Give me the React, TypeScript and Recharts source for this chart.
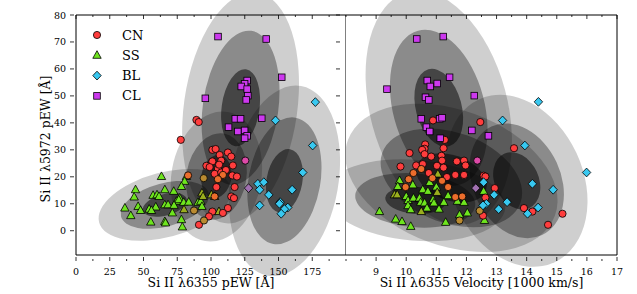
import React from 'react';
import { ScatterChart, Scatter, XAxis, YAxis, ReferenceArea, ReferenceLine } from 'recharts';

type Pt = [number, number];

// --- left panel: Si II 6355 pEW vs Si II 5972 pEW ---
const cnPew: Pt[] = [[89.2, 41.1], [90.9, 40.3], [77.6, 33.7], [101, 30], [103.4, 30.3], [112.5, 29.0], [115, 27.5], [106.4, 28.1], [107.6, 26.0], [101, 25.7], [116.2, 24.2], [96.6, 24.1], [99, 23.6], [105.1, 22.9], [102.7, 21.1], [107.6, 21.6], [115.8, 20.5], [119.2, 20.1], [104, 16.2], [117.5, 16.2], [115, 12.7], [117, 12.1], [112.5, 8.4], [108.8, 6.6], [101, 7.1], [98.5, 5.3], [91.1, 2.2], [111, 22.5], [106, 24.5]];
const cnPewWarm: Pt[] = [[108.8, 20.7], [83, 20.5], [105.1, 19.1], [102.7, 12.7]];
const cnPewBrown: Pt[] = [[94.6, 19.5], [94.8, 3.8], [87.4, 7.5]];
const cnPewPink: Pt[] = [[125.4, 26.0]];
const ssPew: Pt[] = [[63.3, 20.1], [81.8, 20.1], [80.5, 18.3], [44.1, 15.2], [65.8, 15.2], [78.1, 16.4], [72.4, 14.6], [43.1, 12.5], [57.1, 13.1], [60, 13.3], [61.5, 12.7], [76.8, 12.1], [74.4, 10.9], [76.1, 11.5], [79.8, 10.5], [83.5, 10.6], [90.4, 10.5], [92.4, 10.9], [65.8, 9.6], [68.2, 9.6], [72.6, 9.4], [59.1, 8.8], [36.2, 8.4], [46, 9.0], [47.8, 7.5], [54.2, 8.0], [55.9, 7.5], [93.3, 9.0], [71.4, 6.6], [40.6, 5.6], [55.4, 3.2], [65.8, 3.4], [66.3, 2.9], [78.1, 4.1], [78.8, 1.4]];
const ssPewOlive: Pt[] = [[93.3, 14.0], [94.1, 12.7], [100.3, 13.3], [102.7, 12.7], [80, 7.8], [105.9, 7.1]];
const blPew: Pt[] = [[177.3, 47.7], [147.8, 40.9], [175.3, 31.6], [168, 21.6], [160.1, 15.2], [134.7, 17.4], [139.1, 18.0], [136, 15.2], [142.8, 13.3], [136, 9.4], [151.2, 10.6], [150.7, 10], [156.9, 8.6], [154.4, 8.0], [152, 6.3]];
const blPewMauve: Pt[] = [[127.8, 15.8]];
const clPew: Pt[] = [[105.2, 72.0], [140.9, 71.1], [152.4, 56.9], [126.8, 55.7], [124.9, 54.5], [122.4, 53.5], [126.8, 52.5], [127.3, 50.1], [126.1, 48.5], [95.8, 49.1], [137.6, 41.7], [118, 41.5], [121.9, 41.5], [113, 38.4], [119.9, 36.8], [124.9, 37.2], [126.8, 35.2], [124.9, 34.3]];

// --- right panel: Si II 6355 velocity vs Si II 5972 pEW ---
const cnVel: Pt[] = [[10.89, 40.9], [12.46, 40.3], [11.28, 33.7], [10.63, 32.0], [10.61, 30.4], [11.24, 30.6], [13.58, 30.6], [10.53, 30], [10.61, 28.4], [10.11, 28.8], [10.83, 27.5], [11.17, 27.8], [11.19, 26.0], [11.68, 25.7], [11.92, 26.0], [11.97, 24.2], [9.81, 23.8], [10.33, 24.2], [10.55, 24.7], [11.02, 24.1], [11.24, 23.4], [10.75, 21.4], [11.35, 19.9], [11.63, 20.7], [11.92, 20.7], [12.57, 20.4], [12.63, 20.1], [12.94, 15.8], [12.63, 12.3], [13.91, 8.4], [14.19, 7.1], [15.19, 6.3], [14.71, 2.2], [12.55, 5.6]];
const cnVelWarm: Pt[] = [[10.5, 22.9], [10.24, 21.4], [10.87, 19.5], [10.08, 19.1], [11.19, 18.5], [9.98, 16.2], [11.39, 16.2], [11.63, 12.5], [11.86, 12.7]];
const cnVelBrown: Pt[] = [[12.44, 7.4], [11.77, 3.8]];
const cnVelPink: Pt[] = [[12.36, 26.0]];
const ssVel: Pt[] = [[9.78, 18.6], [10.22, 17.0], [10.78, 17.9], [9.72, 16.4], [10.55, 15.2], [10.72, 14.6], [11.0, 16.2], [10.0, 12.7], [10.06, 11.2], [10.24, 12.1], [10.44, 12.1], [10.48, 10.5], [10.61, 10.3], [10.89, 11.5], [10.92, 10.3], [11.39, 13.0], [11.25, 10.5], [11.7, 10.9], [11.92, 10.5], [10.06, 9.3], [10.15, 7.8], [10.69, 8.4], [11.09, 8.0], [9.11, 7.1], [9.65, 4.3], [9.86, 3.4], [10.15, 1.6], [11.31, 3.1], [11.77, 5.9], [12.03, 6.6], [12.57, 14.6], [12.6, 3.8]];
const ssVelOlive: Pt[] = [[11.05, 21.0], [9.61, 13.3], [9.7, 13.3], [11.03, 14.2], [10.5, 7.1]];
const blVel: Pt[] = [[14.39, 47.8], [13.2, 40.9], [13.94, 31.6], [15.99, 21.6], [14.88, 15.2], [14.19, 17.4], [12.57, 18.0], [12.92, 13.3], [13.35, 10.6], [12.66, 10.0], [12.55, 9.4], [13.07, 8.0], [14.38, 8.6], [14.03, 6.3]];
const blVelMauve: Pt[] = [[12.31, 15.8]];
const clVel: Pt[] = [[10.35, 71.1], [11.23, 72.0], [11.44, 56.9], [9.36, 52.5], [10.7, 55.7], [10.8, 53.5], [11.03, 54.6], [10.64, 49.5], [10.75, 48.5], [12.26, 50.1], [10.5, 41.5], [11.11, 41.5], [11.19, 41.9], [10.67, 38.4], [10.78, 36.8], [12.18, 37.2], [12.73, 35.2], [11.13, 34.3]];

// group means, 1-sigma widths and tilt (deg) for the confidence ellipses
const pewEllipses = [
  { cx: 65.8, cy: 9.6, sx: 16.8, sy: 4.0, angle: -15 },
  { cx: 104, cy: 20.1, sx: 11.1, sy: 8.1, angle: 10 },
  { cx: 154.4, cy: 18.5, sx: 13.3, sy: 11.9, angle: 10 },
  { cx: 121.9, cy: 45.6, sx: 14, sy: 14.4, angle: 8 },
];
const velEllipses = [
  { cx: 10.3, cy: 11.3, sx: 1.0, sy: 5.0, angle: 5 },
  { cx: 11.5, cy: 19.6, sx: 1.22, sy: 8.4, angle: 20 },
  { cx: 13.67, cy: 18.5, sx: 0.73, sy: 11.1, angle: -25 },
  { cx: 11.08, cy: 45.6, sx: 0.76, sy: 14.8, angle: -15 },
];
const sigmas = [3, 2, 1];
const sigmaAlpha: Record<number, number> = { 3: 0.19, 2: 0.33, 1: 0.5 };

const pewTicks = Array.from({ length: 17 }, (_, i) => i * 12.5);
const pewLabels = [0, 25, 50, 75, 100, 125, 150, 175];
const velTicks = Array.from({ length: 19 }, (_, i) => 8 + i * 0.5);
const velLabels = [9, 10, 11, 12, 13, 14, 15, 16, 17];
const ewTicks = [0, 10, 20, 30, 40, 50, 60, 70, 80];
const legendNames = ['CN', 'SS', 'BL', 'CL'];

const FONT = '"DejaVu Serif", serif';
const PLOT_TOP = 15;

const stroke = { stroke: '#000', strokeWidth: 0.8 };
const circle = (fill: string) => (p: any) => <circle cx={p.cx} cy={p.cy} r={3.6} fill={fill} {...stroke} />;
const triangle = (fill: string) => (p: any) => (
  <polygon points={`${p.cx},${p.cy - 4.6} ${p.cx - 4.2},${p.cy + 3} ${p.cx + 4.2},${p.cy + 3}`} fill={fill} {...stroke} />
);
const diamond = (fill: string) => (p: any) => (
  <polygon points={`${p.cx},${p.cy - 4.4} ${p.cx + 4.2},${p.cy} ${p.cx},${p.cy + 4.4} ${p.cx - 4.2},${p.cy}`} fill={fill} {...stroke} />
);
const square = (fill: string) => (p: any) => <rect x={p.cx - 3.3} y={p.cy - 3.3} width={6.6} height={6.6} fill={fill} {...stroke} />;

const RED = '#ff3d3d', ORANGE = '#ec6d2c', BROWN = '#b98a30', PINK = '#dd4aa8';
const GREEN = '#6ee41e', OLIVE = '#9aae1e', CYAN = '#38c8f0', MAUVE = '#a070b0', MAGENTA = '#cc38ee';
const legendShapes = [circle(RED), triangle(GREEN), diamond(CYAN), square(MAGENTA)];

const toData = (pts: Pt[]) => pts.map(([x, y]) => ({ x, y }));

const xTick = (labels: number[]) => (p: any) => {
  const v = p.payload.value;
  const major = labels.includes(v);
  const len = major ? 4 : 2;
  return (
    <g>
      <line x1={p.x} x2={p.x} y1={p.y} y2={p.y - len} {...stroke} />
      <line x1={p.x} x2={p.x} y1={PLOT_TOP} y2={PLOT_TOP + len} {...stroke} />
      {major && (
        <text x={p.x} y={p.y + 13.5} textAnchor="middle" fontSize={9.5} fontFamily={FONT} fill="#000">{v}</text>
      )}
    </g>
  );
};

const yTick = (plotW: number, showLabel: boolean) => (p: any) => {
  const v = p.payload.value;
  return (
    <g>
      <line x1={p.x} x2={p.x + 4} y1={p.y} y2={p.y} {...stroke} />
      <line x1={p.x + plotW} x2={p.x + plotW - 4} y1={p.y} y2={p.y} {...stroke} />
      {showLabel && (
        <text x={p.x - 4} y={p.y + 3.5} textAnchor="end" fontSize={9.5} fontFamily={FONT} fill="#000">{v}</text>
      )}
    </g>
  );
};

const xTitle = (text: string) => (lp: any) => {
  const vb = lp.viewBox || { x: 0, y: 255, width: 270, height: 39 };
  return (
    <text x={vb.x + vb.width / 2} y={vb.y + 32} textAnchor="middle" fontSize={12.5} fontFamily={FONT} fill="#000">{text}</text>
  );
};

const yTitle = (text: string) => (lp: any) => {
  const vb = lp.viewBox || { x: 0, y: 15, width: 76, height: 240 };
  const cx = vb.x + 45;
  const cy = vb.y + vb.height / 2 + 4;
  return (
    <text x={cx} y={cy} transform={`rotate(-90 ${cx} ${cy})`} textAnchor="middle" dominantBaseline="central" fontSize={12.5} fontFamily={FONT} fill="#000">{text}</text>
  );
};

const ellipseAreas = (list: typeof pewEllipses, prefix: string) =>
  list.flatMap((e, i) =>
    sigmas.map((k) => (
      <ReferenceArea
        key={`${prefix}-${i}-${k}`}
        x1={e.cx - e.sx * k}
        x2={e.cx + e.sx * k}
        y1={e.cy - e.sy * k}
        y2={e.cy + e.sy * k}
        ifOverflow="hidden"
        shape={(p: any) => {
          const mx = p.x + p.width / 2;
          const my = p.y + p.height / 2;
          return (
            <ellipse cx={mx} cy={my} rx={Math.abs(p.width) / 2} ry={Math.abs(p.height) / 2}
              transform={`rotate(${e.angle} ${mx} ${my})`} fill="#000" fillOpacity={sigmaAlpha[k]} stroke="none" />
          );
        }}
      />
    ))
  );

type Series = { pts: Pt[]; shape: (p: any) => React.ReactElement };

const leftSeries: Series[] = [
  { pts: ssPew, shape: triangle(GREEN) },
  { pts: ssPewOlive, shape: triangle(OLIVE) },
  { pts: cnPew, shape: circle(RED) },
  { pts: cnPewWarm, shape: circle(ORANGE) },
  { pts: cnPewBrown, shape: circle(BROWN) },
  { pts: cnPewPink, shape: circle(PINK) },
  { pts: blPew, shape: diamond(CYAN) },
  { pts: blPewMauve, shape: diamond(MAUVE) },
  { pts: clPew, shape: square(MAGENTA) },
];
const rightSeries: Series[] = [
  { pts: ssVel, shape: triangle(GREEN) },
  { pts: ssVelOlive, shape: triangle(OLIVE) },
  { pts: cnVel, shape: circle(RED) },
  { pts: cnVelWarm, shape: circle(ORANGE) },
  { pts: cnVelBrown, shape: circle(BROWN) },
  { pts: cnVelPink, shape: circle(PINK) },
  { pts: blVel, shape: diamond(CYAN) },
  { pts: blVelMauve, shape: diamond(MAUVE) },
  { pts: clVel, shape: square(MAGENTA) },
];

export default function App() {
  return (
    <div style={{ position: 'absolute', left: 0, top: 0, width: 637, height: 294, background: '#fff' }}>
      <div style={{ position: 'absolute', left: 0, top: 0 }}>
        <ScatterChart width={346} height={294} margin={{ top: 15, right: 0, bottom: 0, left: 0 }}>
          <XAxis type="number" dataKey="x" domain={[0, 200]} ticks={pewTicks} interval={0} allowDataOverflow
            height={39} tickLine={false} tickMargin={0} axisLine={{ stroke: '#000', strokeWidth: 1 }}
            tick={xTick(pewLabels)} label={{ content: xTitle('Si II λ6355 pEW [Å]') }} />
          <YAxis type="number" dataKey="y" domain={[-9, 80]} ticks={ewTicks} interval={0} allowDataOverflow
            width={76} tickLine={false} tickMargin={0} axisLine={{ stroke: '#000', strokeWidth: 1 }}
            tick={yTick(270, true)} label={{ content: yTitle('Si II λ5972 pEW [Å]') }} />
          {ellipseAreas(pewEllipses, 'pew')}
          <ReferenceLine y={80} stroke="#000" strokeWidth={1} />
          <ReferenceLine x={200} stroke="#000" strokeWidth={1} />
          {leftSeries.map((s, i) => (
            <Scatter key={i} data={toData(s.pts)} shape={s.shape} isAnimationActive={false} />
          ))}
        </ScatterChart>
      </div>
      <div style={{ position: 'absolute', left: 346, top: 0 }}>
        <ScatterChart width={291} height={294} margin={{ top: 15, right: 20, bottom: 0, left: 0 }}>
          <XAxis type="number" dataKey="x" domain={[8, 17]} ticks={velTicks} interval={0} allowDataOverflow
            height={39} tickLine={false} tickMargin={0} axisLine={{ stroke: '#000', strokeWidth: 1 }}
            tick={xTick(velLabels)} label={{ content: xTitle('Si II λ6355 Velocity [1000 km/s]') }} />
          <YAxis type="number" dataKey="y" domain={[-9, 80]} ticks={ewTicks} interval={0} allowDataOverflow
            width={0} tickLine={false} tickMargin={0} axisLine={{ stroke: '#000', strokeWidth: 1 }}
            tick={yTick(271, false)} />
          {ellipseAreas(velEllipses, 'vel')}
          <ReferenceLine y={80} stroke="#000" strokeWidth={1} />
          <ReferenceLine x={17} stroke="#000" strokeWidth={1} />
          {rightSeries.map((s, i) => (
            <Scatter key={i} data={toData(s.pts)} shape={s.shape} isAnimationActive={false} />
          ))}
        </ScatterChart>
      </div>
      <svg width={180} height={110} style={{ position: 'absolute', left: 0, top: 0, pointerEvents: 'none', overflow: 'visible' }}>
        {legendNames.map((name, i) => {
          const cy = 35 + i * 20.3;
          return (
            <g key={name}>
              {legendShapes[i]({ cx: 97, cy })}
              <text x={122} y={cy + 4.5} fontSize={13} fontFamily={FONT} fill="#000">{name}</text>
            </g>
          );
        })}
      </svg>
    </div>
  );
}
